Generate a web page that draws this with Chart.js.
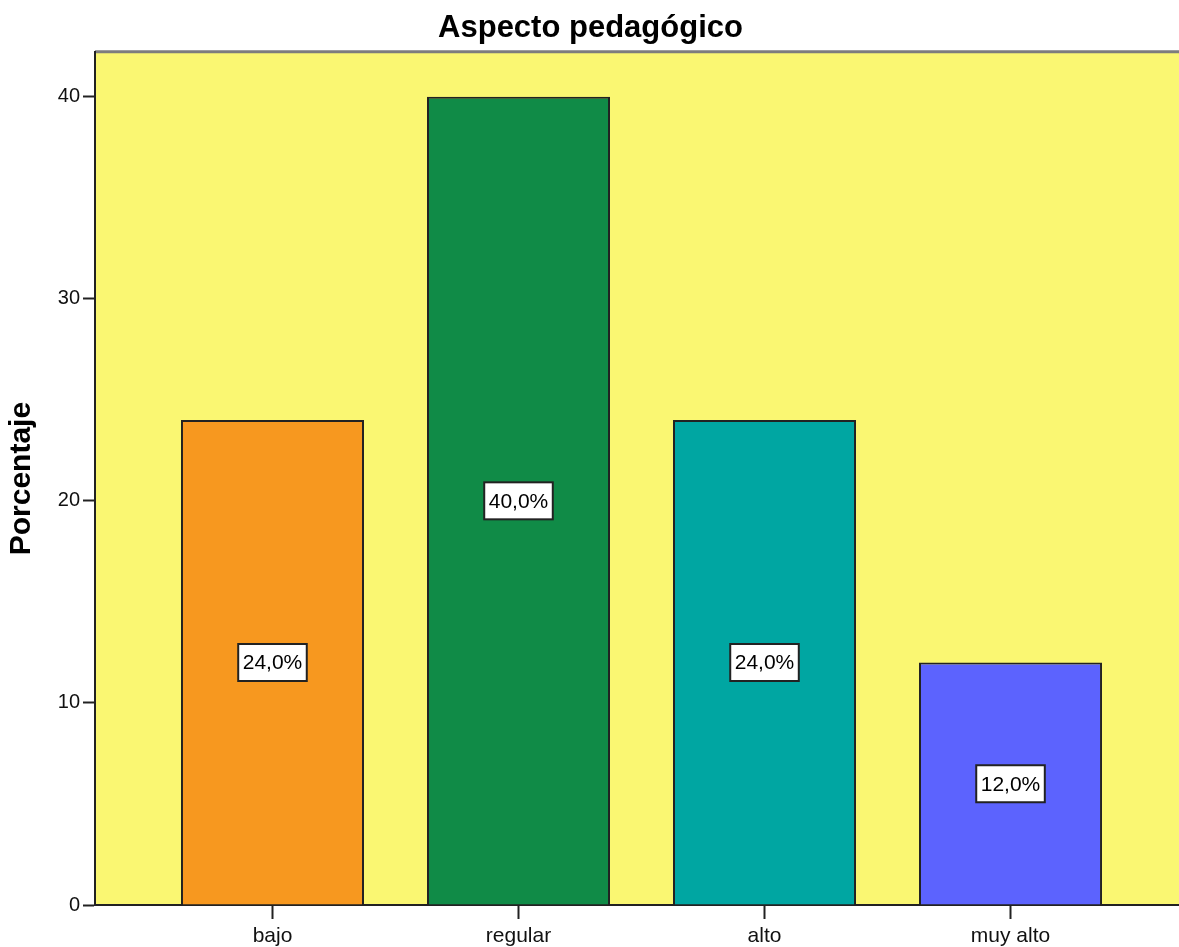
<!DOCTYPE html>
<html><head><meta charset="utf-8">
<script src="https://cdn.jsdelivr.net/npm/chart.js@4"></script>
<style>html,body{margin:0;padding:0;background:#fff;overflow:hidden}
#wrap{position:absolute;left:0;top:0;width:1181px;height:947px}</style>
</head><body><div id="wrap"><canvas id="c" width="1181" height="947"></canvas></div>
<script>
const chartTitle = 'Aspecto pedagógico';
const yAxisTitle = 'Porcentaje';
const categories = ['bajo', 'regular', 'alto', 'muy alto'];
const percentages = [24, 40, 24, 12];
const valueLabels = ['24,0%', '40,0%', '24,0%', '12,0%'];
const barColors = ['#F7981F', '#108B47', '#00A6A2', '#5C63FE'];
const yTicks = [0, 10, 20, 30, 40];

const regFont = "'Liberation Sans', Arial, sans-serif";

const bgPlugin = {
  id: 'bg',
  beforeDraw(chart) {
    const { ctx, chartArea: a } = chart;
    ctx.save();
    ctx.fillStyle = '#FAF772';
    ctx.fillRect(a.left, a.top, a.right - a.left, a.bottom - a.top);
    ctx.strokeStyle = '#7d7d7d';
    ctx.lineWidth = 3;
    ctx.beginPath();
    ctx.moveTo(a.left, a.top - 0.5);
    ctx.lineTo(a.right, a.top - 0.5);
    ctx.stroke();
    ctx.restore();
  }
};

const labelPlugin = {
  id: 'vlabels',
  afterDatasetsDraw(chart) {
    const { ctx } = chart;
    const meta = chart.getDatasetMeta(0);
    const ys = chart.scales.y;
    ctx.save();
    ctx.font = "21px " + regFont;
    ctx.textAlign = 'center';
    ctx.textBaseline = 'middle';
    meta.data.forEach((el, i) => {
      const txt = valueLabels[i];
      const cx = el.x;
      const cy = ys.getPixelForValue(percentages[i] / 2);
      const w = ctx.measureText(txt).width + 9;
      const h = 37;
      ctx.fillStyle = '#fff';
      ctx.fillRect(cx - w / 2, cy - h / 2, w, h);
      ctx.strokeStyle = '#222';
      ctx.lineWidth = 2;
      ctx.strokeRect(cx - w / 2, cy - h / 2, w, h);
      ctx.fillStyle = '#000';
      ctx.fillText(txt, cx, cy + 1);
    });
    ctx.restore();
  }
};

new Chart(document.getElementById('c'), {
  type: 'bar',
  data: {
    datasets: [{
      data: percentages.map((v, i) => ({ x: i + 1, y: v })),
      backgroundColor: barColors,
      borderColor: '#222',
      borderWidth: 2,
      borderSkipped: 'start',
      barPercentage: 0.744,
      categoryPercentage: 1
    }]
  },
  options: {
    responsive: false,
    devicePixelRatio: 1,
    animation: false,
    layout: { padding: 0 },
    plugins: {
      legend: { display: false },
      tooltip: { enabled: false },
      title: {
        display: true,
        text: chartTitle,
        color: '#000',
        font: { family: regFont, size: 31, weight: 'bold' },
        padding: { top: 10, bottom: 5 }
      }
    },
    scales: {
      x: {
        type: 'linear',
        offset: false,
        min: 0.2785,
        max: 4.693,
        afterBuildTicks: s => { s.ticks = categories.map((c, i) => ({ value: i + 1 })); },
        afterFit: s => { s.height = 42; },
        ticks: {
          callback: v => categories[v - 1],
          color: '#111',
          font: { family: regFont, size: 21 },
          padding: 5,
          maxRotation: 0,
          autoSkip: false
        },
        grid: { offset: false, drawOnChartArea: false, drawTicks: true, tickLength: 14, tickColor: '#222', tickWidth: 2 },
        border: { display: true, color: '#222', width: 2 }
      },
      y: {
        min: 0,
        max: 42.2,
        afterBuildTicks: s => { s.ticks = yTicks.map(v => ({ value: v })); },
        afterFit: s => { s.width = 95; },
        ticks: {
          color: '#111',
          font: { family: regFont, size: 20 },
          padding: 3
        },
        grid: { drawOnChartArea: false, drawTicks: true, tickLength: 12, tickColor: '#222', tickWidth: 2 },
        border: { display: true, color: '#222', width: 2 },
        title: {
          display: true,
          text: yAxisTitle,
          color: '#000',
          font: { family: regFont, size: 30, weight: 'bold' },
          padding: { top: 4, bottom: 0 }
        }
      }
    }
  },
  plugins: [bgPlugin, labelPlugin]
});
</script>
</body></html>
